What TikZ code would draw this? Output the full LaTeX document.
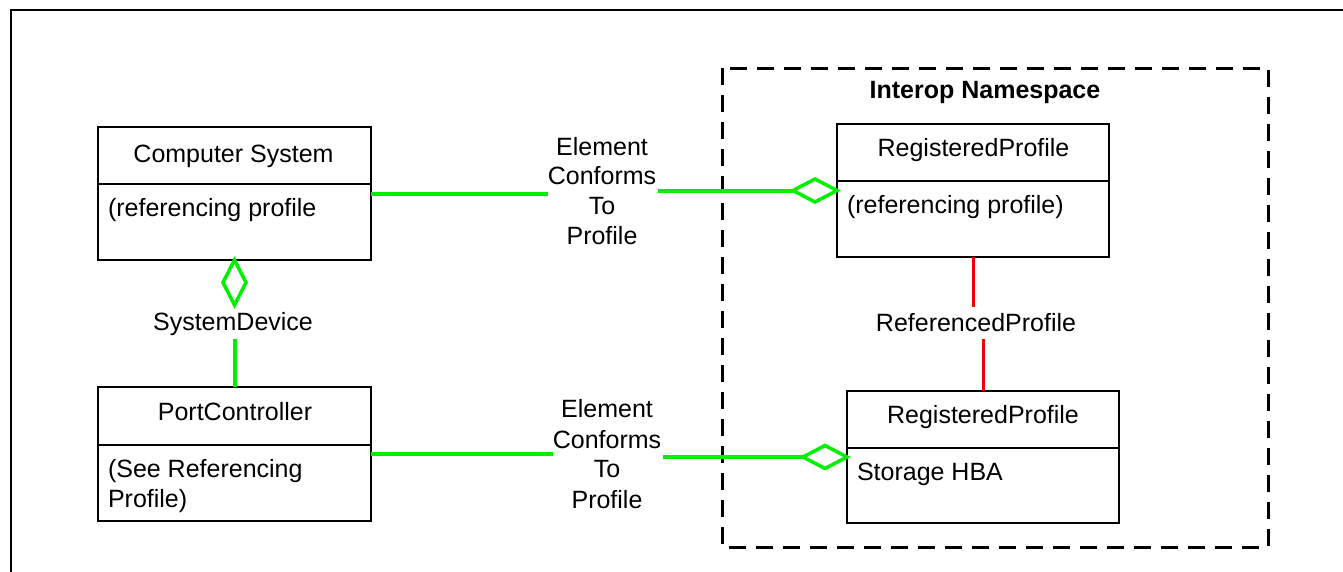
\documentclass[tikz,border=0pt]{standalone}
\usepackage{fontspec}
\setmainfont{Liberation Sans}
\definecolor{assocgreen}{RGB}{0,240,0}
\definecolor{refred}{RGB}{240,0,0}
\begin{document}
\begin{tikzpicture}[x=1pt,y=-1pt,
  box/.style={draw=black,line width=2pt,minimum width=273pt,inner sep=0pt,outer sep=0pt},
  divider/.style={draw=black,line width=2pt},
  txt/.style={inner sep=0pt,outer sep=0pt,font=\fontsize{25}{30}\selectfont},
  assoc/.style={draw=assocgreen,line width=4pt},
  diam/.style={draw=assocgreen,line width=3.5pt,line join=miter,fill=white},
  refline/.style={draw=refred,line width=3pt},
  frame/.style={draw=black,line width=2pt},
  nsbox/.style={draw=black,line width=3pt,dash pattern=on 17pt off 10pt}]
\useasboundingbox (0,0) rectangle (1343,571);
\fill[white] (0,0) rectangle (1343,571);
% outer frame (top and left edges)
\draw[frame] (1345,10) -- (11,10) -- (11,573);
% namespace container
\draw[nsbox] (722,68) rectangle (1268,547);
\node[txt,anchor=base,font=\fontsize{25}{30}\selectfont\bfseries] (nslabel) at (985,98) {Interop Namespace};
% boxes
\node[box,minimum height=133pt] (cs) at (234.5,193.5) {};
\node[box,minimum height=134pt] (pc) at (234.5,454) {};
\node[box,minimum width=272pt,minimum height=133pt] (rp1) at (973,190.5) {};
\node[box,minimum width=272pt,minimum height=132pt] (rp2) at (983,457) {};
\draw[divider] ([yshift=-57pt]cs.north west) -- ([yshift=-57pt]cs.north east);
\draw[divider] ([yshift=-58pt]pc.north west) -- ([yshift=-58pt]pc.north east);
\draw[divider] ([yshift=-57pt]rp1.north west) -- ([yshift=-57pt]rp1.north east);
\draw[divider] ([yshift=-57pt]rp2.north west) -- ([yshift=-57pt]rp2.north east);
% box texts
\node[txt,anchor=base] (cst) at (233.5,162) {Computer System};
\node[txt,anchor=base west] (csa) at (108,216.5) {(referencing profile};
\node[txt,anchor=base] (pct) at (235,420) {PortController};
\node[txt,anchor=base west] (pca) at (108,477) {(See Referencing};
\node[txt,anchor=base west] (pcb) at (108,507) {Profile)};
\node[txt,anchor=base] (rp1t) at (973.5,156) {RegisteredProfile};
\node[txt,anchor=base west] (rp1a) at (847,213) {(referencing profile)};
\node[txt,anchor=base] (rp2t) at (983,423) {RegisteredProfile};
\node[txt,anchor=base west] (rp2a) at (857,480) {Storage HBA};
% association labels
\node[txt,anchor=base] (e1a) at (602,155) {Element};
\node[txt,anchor=base] (e1b) at (602,184.5) {Conforms};
\node[txt,anchor=base] (e1c) at (602,214) {To};
\node[txt,anchor=base] (e1d) at (602,244) {Profile};
\node[txt,anchor=base] (e2a) at (607,417) {Element};
\node[txt,anchor=base] (e2b) at (607,448) {Conforms};
\node[txt,anchor=base] (e2c) at (607,477.5) {To};
\node[txt,anchor=base] (e2d) at (607,508) {Profile};
\node[txt,anchor=base] (sd) at (233,330) {SystemDevice};
\node[txt,anchor=base] (refp) at (976,331) {ReferencedProfile};
% gap coordinates
\coordinate (g1l) at (548,194);
\coordinate (g1r) at (658,190.5);
\coordinate (g2l) at (553,454);
\coordinate (g2r) at (663,457);
\coordinate (sdb) at (234.5,339);
\coordinate (rpa) at (973,307);
\coordinate (rpb) at (983,339);
% ElementConformsToProfile (top)
\draw[assoc] ([yshift=-67pt]cs.north east) -- (g1l);
\draw[assoc] (g1r) -- ([xshift=-44pt]rp1.west);
\draw[diam] (rp1.west) -- ++(-22,-11.5) -- ++(-22,11.5) -- ++(22,11.5) -- cycle;
% ElementConformsToProfile (bottom)
\draw[assoc] ([yshift=-67pt]pc.north east) -- (g2l);
\draw[assoc] (g2r) -- ([xshift=-44pt]rp2.west);
\draw[diam] (rp2.west) -- ++(-22,-11.5) -- ++(-22,11.5) -- ++(22,11.5) -- cycle;
% SystemDevice
\draw[diam] (cs.south) -- ++(11.5,22.5) -- ++(-11.5,22.5) -- ++(-11.5,-22.5) -- cycle;
\draw[assoc] (sdb) -- (pc.north);
% ReferencedProfile
\draw[refline] (rp1.south) -- (rpa);
\draw[refline] (rpb) -- (rp2.north);
\end{tikzpicture}
\end{document}
